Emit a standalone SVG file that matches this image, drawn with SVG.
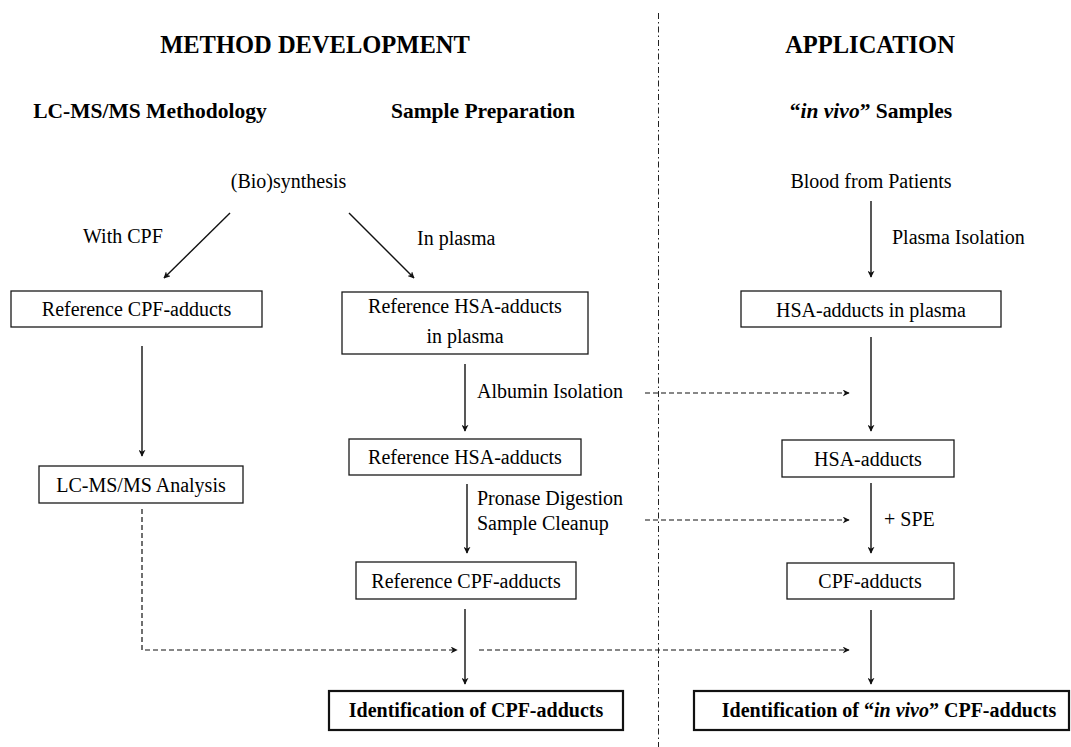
<svg xmlns="http://www.w3.org/2000/svg" width="1071" height="747" viewBox="0 0 1071 747">
  <style>
    text { font-family: "Liberation Serif", "Times New Roman", serif; fill: #000; }
    .h1 { font-size: 24.5px; font-weight: bold; text-anchor: middle; }
    .h2 { font-size: 21.5px; font-weight: bold; text-anchor: middle; }
    .t { font-size: 20px; }
    .c { text-anchor: middle; }
    .b { font-weight: bold; }
    .box { fill: #fff; stroke: #1a1a1a; stroke-width: 1.3; }
    .box2 { fill: #fff; stroke: #111; stroke-width: 2.2; }
    .arrow { stroke: #111; stroke-width: 1.4; fill: none; marker-end: url(#head); }
    .dash { stroke: #111; stroke-width: 1.2; fill: none; stroke-dasharray: 5 3; marker-end: url(#head); }
    .divider { stroke: #222; stroke-width: 1; stroke-dasharray: 6 3 1.5 3; }
  </style>
  <defs>
    <marker id="head" viewBox="0 0 10 10" refX="9" refY="5" markerWidth="7" markerHeight="7" markerUnits="userSpaceOnUse" orient="auto">
      <path d="M0,0 L10,5 L0,10 L3,5 z" fill="#111"/>
    </marker>
  </defs>

  <!-- section divider -->
  <line class="divider" x1="658.5" y1="13" x2="658.5" y2="747"/>

  <!-- headings -->
  <g id="headings">
    <text class="h1" x="315" y="53">METHOD DEVELOPMENT</text>
    <text class="h1" x="870" y="53">APPLICATION</text>
    <text class="h2" x="150" y="117.5">LC-MS/MS Methodology</text>
    <text class="h2" x="483" y="117.5">Sample Preparation</text>
    <text class="h2" x="871" y="117.5">“<tspan font-style="italic">in vivo</tspan>” Samples</text>
  </g>

  <!-- connectors -->
  <g id="connectors">
    <line class="arrow" x1="230" y1="213" x2="164" y2="278"/>
    <line class="arrow" x1="349" y1="213" x2="414" y2="278"/>
    <line class="arrow" x1="142" y1="346" x2="142" y2="456"/>
    <line class="arrow" x1="465" y1="364" x2="465" y2="431"/>
    <line class="arrow" x1="467" y1="484" x2="467" y2="553"/>
    <line class="arrow" x1="465" y1="609" x2="465" y2="684"/>
    <line class="arrow" x1="871" y1="201" x2="871" y2="277"/>
    <line class="arrow" x1="871" y1="337" x2="871" y2="431"/>
    <line class="arrow" x1="871" y1="483" x2="871" y2="553"/>
    <line class="arrow" x1="871" y1="610" x2="871" y2="684"/>
    <path class="dash" d="M142,509 L142,650 L457,650"/>
    <line class="dash" x1="479" y1="650" x2="849" y2="650"/>
    <line class="dash" x1="645" y1="393" x2="849" y2="393"/>
    <line class="dash" x1="645" y1="520" x2="849" y2="520"/>
  </g>

  <!-- free labels -->
  <g id="labels" class="t">
    <text class="t c" x="288.5" y="188">(Bio)synthesis</text>
    <text class="t c" x="871" y="188">Blood from Patients</text>
    <text class="t" x="83" y="243">With CPF</text>
    <text class="t" x="417" y="245">In plasma</text>
    <text class="t" x="892" y="244">Plasma Isolation</text>
    <text class="t" x="477" y="398">Albumin Isolation</text>
    <text class="t" x="477" y="505">Pronase Digestion</text>
    <text class="t" x="477" y="530">Sample Cleanup</text>
    <text class="t" x="884" y="526">+ SPE</text>
  </g>

  <!-- method development nodes -->
  <g id="ref-cpf-synth">
    <rect class="box" x="11" y="291" width="251" height="36"/>
    <text class="t c" x="136.5" y="316">Reference CPF-adducts</text>
  </g>
  <g id="ref-hsa-plasma">
    <rect class="box" x="342" y="292" width="246" height="62"/>
    <text class="t c" x="465" y="313">Reference HSA-adducts</text>
    <text class="t c" x="465" y="343">in plasma</text>
  </g>
  <g id="ref-hsa">
    <rect class="box" x="349" y="439" width="232" height="36"/>
    <text class="t c" x="465" y="464">Reference HSA-adducts</text>
  </g>
  <g id="lcms-analysis">
    <rect class="box" x="39" y="466" width="204" height="37"/>
    <text class="t c" x="141" y="492">LC-MS/MS Analysis</text>
  </g>
  <g id="ref-cpf-digest">
    <rect class="box" x="356" y="562" width="220" height="37"/>
    <text class="t c" x="466" y="588">Reference CPF-adducts</text>
  </g>
  <g id="ident-ref">
    <rect class="box2" x="329" y="691" width="294" height="39"/>
    <text class="t c b" x="476" y="717">Identification of CPF-adducts</text>
  </g>

  <!-- application nodes -->
  <g id="hsa-plasma">
    <rect class="box" x="741" y="291" width="260" height="36"/>
    <text class="t c" x="871" y="317">HSA-adducts in plasma</text>
  </g>
  <g id="hsa">
    <rect class="box" x="782" y="440" width="172" height="37"/>
    <text class="t c" x="868" y="466">HSA-adducts</text>
  </g>
  <g id="cpf">
    <rect class="box" x="787" y="563" width="167" height="36"/>
    <text class="t c" x="870" y="588">CPF-adducts</text>
  </g>
  <g id="ident-invivo">
    <rect class="box2" x="694" y="691" width="375" height="39"/>
    <text class="t c b" x="889" y="717">Identification of “<tspan font-style="italic">in vivo</tspan>” CPF-adducts</text>
  </g>
</svg>
